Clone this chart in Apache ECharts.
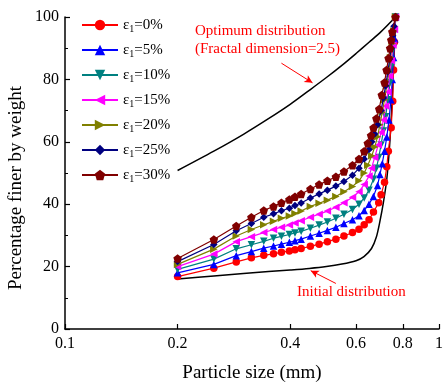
<!DOCTYPE html>
<html><head><meta charset="utf-8">
<script src="https://cdn.jsdelivr.net/npm/echarts@6/dist/echarts.min.js"></script>
<style>html,body{margin:0;padding:0;background:#fff}#c{width:443px;height:383px}</style>
</head><body><div id="c"></div>
<script>
// Shared particle sizes (mm) for the lower part of each curve
const xLow = [0.2,0.25,0.287,0.315,0.34,0.361,0.379,0.398,0.412,0.428,0.453,0.478,0.503,0.53,0.557,0.587,0.611,0.631];

const names = ['ε1=0%','ε1=5%','ε1=10%','ε1=15%','ε1=20%','ε1=25%','ε1=30%'];
const colors = ['#ff0000','#0000ff','#008080','#ff00ff','#808000','#000080','#800000'];

const yLow0 = [16.8,19.5,21.5,22.8,23.6,24.1,24.6,25.0,25.4,25.8,26.5,27.2,28.0,28.8,29.8,30.9,32.0,33.4];
const xHigh0 = [0.65,0.668,0.69,0.70,0.715,0.725,0.732,0.745,0.752,0.756,0.76,0.765];
const yHigh0 = [35,37.5,40.5,43,47,52,57,64.5,73,83,92,100];

const yLow5 = [18.0,20.7,23.5,24.8,25.9,26.6,27.2,27.8,28.3,28.8,29.8,30.7,31.6,32.6,33.8,35.0,36.3,38.0];
const xHigh5 = [0.65,0.668,0.685,0.695,0.705,0.715,0.725,0.735,0.744,0.75,0.756,0.761,0.765];
const yHigh5 = [40,42.5,46,49.5,53,57,61.5,67,73.5,80,87,93,100];

const yLow10 = [19.1,22.4,25.7,27.0,28.1,29.1,29.7,30.3,30.8,31.3,32.3,33.3,34.3,35.5,36.8,38.3,40.0,42.0];
const xHigh10 = [0.65,0.668,0.68,0.69,0.70,0.71,0.72,0.73,0.74,0.748,0.755,0.76,0.765];
const yHigh10 = [44.5,48,51.5,55,59,63.5,68,73.5,79,84.5,90,95,100];

const yLow15 = [20.0,24.0,28.0,29.6,30.9,31.9,32.6,33.3,34.0,34.7,35.8,36.8,37.8,39.0,40.5,42.2,44.0,46.3];
const xHigh15 = [0.65,0.66,0.673,0.688,0.70,0.71,0.72,0.73,0.738,0.746,0.753,0.76,0.765];
const yHigh15 = [49,51.5,55,59,63,67,71.5,76,81,86,91,96,100];

const yLow20 = [20.7,25.6,29.8,31.9,33.4,34.5,35.5,36.2,37.0,37.8,39.3,40.3,41.3,42.5,44.0,45.7,47.5,50.0];
const xHigh20 = [0.645,0.661,0.673,0.685,0.695,0.705,0.715,0.725,0.734,0.742,0.75,0.757,0.765];
const yHigh20 = [52.5,55.5,58.3,61.6,65.5,69.5,73.5,78,82.5,87,91.5,95.5,100];

const yLow25 = [21.6,27.1,31.5,33.8,35.8,36.9,37.9,38.7,39.6,40.4,42.0,43.3,44.5,45.8,47.3,49.3,51.5,54.5];
const xHigh25 = [0.65,0.661,0.673,0.685,0.70,0.71,0.72,0.73,0.738,0.745,0.752,0.758,0.765];
const yHigh25 = [57.5,60,62.5,65.5,70,74,78,82.5,86.5,90,94,97,100];

const yLow30 = [22.6,28.7,33.0,35.8,38.0,39.3,40.5,41.5,42.4,43.3,44.9,46.3,47.5,48.8,50.5,52.5,54.5,57.0];
const xHigh30 = [0.645,0.658,0.668,0.68,0.692,0.703,0.715,0.724,0.733,0.74,0.745,0.75,0.765];
const yHigh30 = [59.5,62,64.5,67.5,70.5,75,79,83,86.8,90,92.6,95.3,100];

// Reference curves
const xOpt = [0.2,0.25,0.3,0.35,0.4,0.45,0.5,0.55,0.6,0.65,0.7,0.765];
const yOpt = [50.8,57,62.4,67.4,72,76.5,80.6,84.5,88.3,91.9,95.3,100];
const xInit = [0.2,0.25,0.3,0.35,0.4,0.45,0.5,0.55,0.6,0.63,0.66,0.68,0.695,0.71,0.725,0.737,0.747,0.755,0.761,0.765];
const yInit = [16.0,17.0,17.8,18.4,18.9,19.4,20.0,20.8,21.9,23.2,25.8,29.5,34.5,40.5,48,58,70,82,92,100];

const xTicks = [0.1,0.2,0.4,0.6,0.8,1];

const lows = [yLow0,yLow5,yLow10,yLow15,yLow20,yLow25,yLow30];
const xHighs = [xHigh0,xHigh5,xHigh10,xHigh15,xHigh20,xHigh25,xHigh30];
const yHighs = [yHigh0,yHigh5,yHigh10,yHigh15,yHigh20,yHigh25,yHigh30];

const FONT = '"Liberation Serif", "Times New Roman", serif';
const pent = 'path://M0,-10L9.51,-3.09L5.88,8.09L-5.88,8.09L-9.51,-3.09Z';
const symbols = ['circle','triangle','triangle','triangle','triangle','diamond',pent];
const rots = [0,0,180,90,-90,0,0];

function pairs(xs, ys){ return xs.map((x,i)=>[x, ys[i]]); }

const series = [
  {type:'line', name:'opt', data: pairs(xOpt,yOpt), symbol:'none', smooth:0.3,
   lineStyle:{color:'#000',width:1.5}, z:1, silent:true,
   markLine:{silent:true, symbol:['none','arrow'], symbolSize:[6,8],
     lineStyle:{color:'#ff0000',width:1,type:'solid'}, label:{show:false},
     data:[[{coord:[0.379,85.2]},{coord:[0.459,78.9]}],[{coord:[0.530,14.6]},{coord:[0.454,18.7]}]]}},
  {type:'line', name:'init', data: pairs(xInit,yInit), symbol:'none', smooth:0.3,
   lineStyle:{color:'#000',width:1.5}, z:1, silent:true}
];
names.forEach((n,i)=>{
  series.push({
    type:'line', name:n,
    data: pairs(xLow.concat(xHighs[i]), lows[i].concat(yHighs[i])),
    symbol: symbols[i], symbolRotate: rots[i], symbolSize: i===6?8.5:7.5,
    showSymbol:true,
    lineStyle:{color:colors[i],width:1.2}, itemStyle:{color:colors[i]},
    z: 2+i
  });
});

const chart = echarts.init(document.getElementById('c'));
chart.setOption({
  animation:false,
  backgroundColor:'#fff',
  grid:{left:65,right:4,top:17,bottom:54,containLabel:false,outerBoundsMode:'none'},
  legend:{
    data: names, orient:'vertical', left:81, top:16, padding:0,
    itemWidth:36, itemHeight:13, itemGap:7,
    formatter: n => '{n|ε}{s|1}{n|' + n.slice(2) + '}',
    textStyle:{color:'#000', fontFamily:FONT, fontSize:15,
      rich:{n:{fontSize:15,fontFamily:FONT,color:'#000',lineHeight:18},
            s:{fontSize:10,fontFamily:FONT,color:'#000',lineHeight:18,verticalAlign:'bottom',padding:[8,0,0,0]}}}
  },
  xAxis:{
    type:'log', logBase:10, min:0.1, max:1,
    name:'Particle size (mm)', nameLocation:'middle', nameGap:35,
    nameTextStyle:{fontFamily:FONT,fontSize:19,color:'#000'},
    axisLine:{lineStyle:{color:'#000',width:1.5}},
    axisTick:{inside:true,length:5,customValues:xTicks,lineStyle:{color:'#000',width:1.2}},
    axisLabel:{customValues:xTicks,fontFamily:FONT,fontSize:16,color:'#000',margin:7,
      formatter: v => String(+(+v).toFixed(2))},
    splitLine:{show:false}, minorTick:{show:false}
  },
  yAxis:{
    type:'value', min:0, max:100, interval:20,
    axisLine:{show:true,lineStyle:{color:'#000',width:1.5}},
    axisTick:{show:true,inside:true,length:5,lineStyle:{color:'#000',width:1.2}},
    minorTick:{show:true,splitNumber:2,length:3,lineStyle:{color:'#000',width:1}},
    axisLabel:{fontFamily:FONT,fontSize:16,color:'#000',margin:6},
    splitLine:{show:false}
  },
  graphic:[
    {type:'text', x:16, y:188, rotation:Math.PI/2,
     style:{text:'Percentage finer by weight', fill:'#000', font:'19px '+FONT, align:'center', verticalAlign:'middle'}},
    {type:'text', left:195, top:24, style:{text:'Optimum distribution', fill:'#ff0000', font:'15px '+FONT}},
    {type:'text', left:195, top:42, style:{text:'(Fractal dimension=2.5)', fill:'#ff0000', font:'15px '+FONT}},
    {type:'text', left:297, top:285, style:{text:'Initial distribution', fill:'#ff0000', font:'15px '+FONT}}
  ],
  series
});
</script></body></html>
